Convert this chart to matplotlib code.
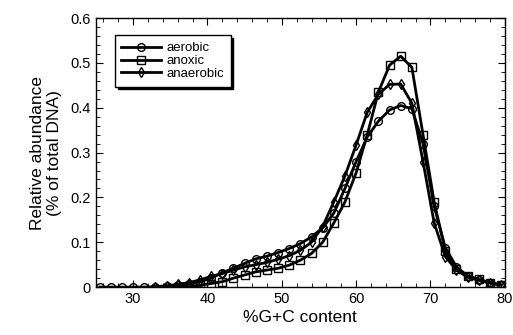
import matplotlib
matplotlib.use('Agg')
import matplotlib.pyplot as plt
from matplotlib.ticker import MultipleLocator, FuncFormatter

plt.rcParams['font.family'] = ['Liberation Sans', 'DejaVu Sans']

# %G+C bins (1.5 % steps)
gc_aerobic = [25.5, 27, 28.5, 30, 31.5, 33, 34.5, 36, 37.5, 39, 40.5, 42, 43.5,
              45, 46.5, 48, 49.5, 51, 52.5, 54, 55.5, 57, 58.5, 60, 61.5, 63,
              64.5, 66, 67.5, 69, 70.5, 72, 73.5, 75, 76.5, 78, 79.5]
aerobic = [0.0, 0.0, 0.0, 0.0, 0.0, 0.001, 0.002, 0.004, 0.007, 0.012, 0.02,
           0.032, 0.042, 0.053, 0.063, 0.069, 0.077, 0.086, 0.097, 0.112, 0.132,
           0.165, 0.22, 0.28, 0.335, 0.37, 0.395, 0.405, 0.398, 0.32, 0.18,
           0.088, 0.045, 0.025, 0.016, 0.01, 0.005]

gc_anoxic = gc_aerobic[7:]
anoxic = [0.0, 0.001, 0.004, 0.008, 0.012, 0.02, 0.027, 0.034, 0.038, 0.042,
          0.049, 0.06, 0.075, 0.1, 0.143, 0.19, 0.255, 0.34, 0.435, 0.495,
          0.515, 0.49, 0.34, 0.19, 0.08, 0.04, 0.025, 0.017, 0.01, 0.005]

gc_anaerobic = gc_aerobic[5:]
anaerobic = [0.001, 0.003, 0.006, 0.01, 0.016, 0.024, 0.03, 0.038, 0.045, 0.05,
             0.055, 0.062, 0.07, 0.082, 0.1, 0.135, 0.19, 0.248, 0.317, 0.39,
             0.43, 0.452, 0.453, 0.41, 0.28, 0.143, 0.068, 0.038, 0.022, 0.015,
             0.009, 0.004]

fig = plt.figure(figsize=(5.13, 3.35), dpi=100)
ax = fig.add_axes([0.187, 0.143, 0.797, 0.803])

style = dict(color='black', linewidth=2.0, markerfacecolor='none',
             markeredgecolor='black', markeredgewidth=1.0)
ax.plot(gc_aerobic, aerobic, marker='o', markersize=5.5, label='aerobic', **style)
ax.plot(gc_anoxic, anoxic, marker='s', markersize=5.5, label='anoxic', **style)
ax.plot(gc_anaerobic, anaerobic, marker='d', markersize=5.5, label='anaerobic', **style)

ax.set_xlim(25, 80)
ax.set_ylim(0, 0.6)
ax.xaxis.set_major_locator(MultipleLocator(10))
ax.xaxis.set_minor_locator(MultipleLocator(2))
ax.yaxis.set_major_locator(MultipleLocator(0.1))
ax.yaxis.set_minor_locator(MultipleLocator(0.02))
ax.yaxis.set_major_formatter(FuncFormatter(lambda v, p: '0' if abs(v) < 1e-9 else f'{v:.1f}'))
ax.tick_params(which='both', direction='in', top=True, right=True, labelsize=10.5)
ax.tick_params(which='major', length=5)
ax.tick_params(which='minor', length=3)
for s in ax.spines.values():
    s.set_linewidth(1.0)

ax.set_xlabel('%G+C content', fontsize=12.5, labelpad=3)
ax.set_ylabel('Relative abundance\n(% of total DNA)', fontsize=12.5, labelpad=6)

leg = ax.legend(loc='upper left', bbox_to_anchor=(0.03, 0.96), fontsize=9.5,
                frameon=True, fancybox=False, edgecolor='black', framealpha=1,
                shadow={'color': 'black', 'alpha': 1}, handlelength=3.0,
                labelspacing=0.05, handletextpad=0.4, borderpad=0.5)
leg.get_frame().set_linewidth(1.0)

fig.savefig('out.png', dpi=100)
